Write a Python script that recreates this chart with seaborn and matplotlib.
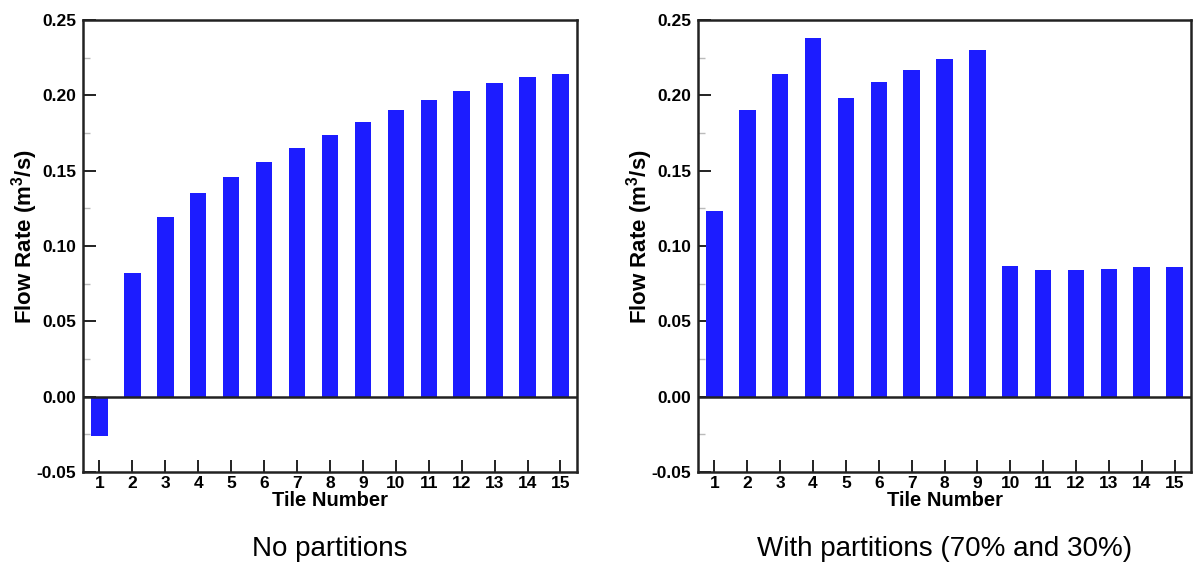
import numpy as np
import pandas as pd
import matplotlib
matplotlib.use("Agg")
import matplotlib.pyplot as plt
from matplotlib.ticker import MultipleLocator, FormatStrFormatter
import seaborn as sns

# Flow rate through each floor tile (m^3/s)
tiles = list(range(1, 16))
flow_no_partitions = [-0.026, 0.082, 0.119, 0.135, 0.146, 0.156, 0.165, 0.174,
                      0.182, 0.190, 0.197, 0.203, 0.208, 0.212, 0.214]
flow_with_partitions = [0.123, 0.190, 0.214, 0.238, 0.198, 0.209, 0.217, 0.224,
                        0.230, 0.087, 0.084, 0.084, 0.085, 0.086, 0.086]
captions = ["No partitions", "With partitions (70% and 30%)"]

sns.set_theme(style="ticks")
plt.rcParams["font.family"] = ["Liberation Sans", "DejaVu Sans"]
plt.rcParams["mathtext.default"] = "regular"

BAR_COLOR = "#1c1cff"
fig = plt.figure(figsize=(11.94, 5.62), dpi=100)
ax_left = fig.add_axes([0.0695, 0.1601, 0.4137, 0.8043])
ax_right = fig.add_axes([0.5846, 0.1601, 0.4129, 0.8043])

for ax, values, caption in zip((ax_left, ax_right),
                               (flow_no_partitions, flow_with_partitions),
                               captions):
    df = pd.DataFrame({"tile": tiles, "flow": values})
    sns.barplot(data=df, x="tile", y="flow", ax=ax, color=BAR_COLOR,
                saturation=1, width=0.5, linewidth=0, errorbar=None)
    ax.axhline(0, color="#222222", lw=1.8, zorder=3)
    ax.set_xlim(-0.5, 14.5)
    ax.set_ylim(-0.05, 0.25)
    ax.yaxis.set_major_locator(MultipleLocator(0.05))
    ax.yaxis.set_minor_locator(MultipleLocator(0.025))
    ax.yaxis.set_major_formatter(FormatStrFormatter("%.2f"))
    for side in ax.spines.values():
        side.set_visible(True)
        side.set_linewidth(1.8)
        side.set_color("#222222")
    ax.tick_params(axis="both", which="major", direction="in", length=9,
                   width=1.4, color="#222222", labelsize=12.5, labelcolor="black")
    ax.tick_params(axis="x", pad=3)
    ax.tick_params(axis="y", pad=5)
    ax.tick_params(axis="y", which="minor", direction="in", length=5,
                   width=1.0, color="#bbbbbb")
    for lab in ax.get_xticklabels() + ax.get_yticklabels():
        lab.set_fontweight("bold")
    ax.set_xlabel("Tile Number", fontsize=14.5, fontweight="bold", labelpad=0,
                  color="black")
    ax.set_ylabel("Flow Rate (m$^3$/s)", fontsize=16, fontweight="bold",
                  color="black")
    ax.yaxis.set_label_coords(-0.088, 0.52)
    ax.text(0.5, -0.17, caption, transform=ax.transAxes, ha="center",
            va="center", fontsize=20, color="black")

fig.savefig("out.png", dpi=100, facecolor="white")
